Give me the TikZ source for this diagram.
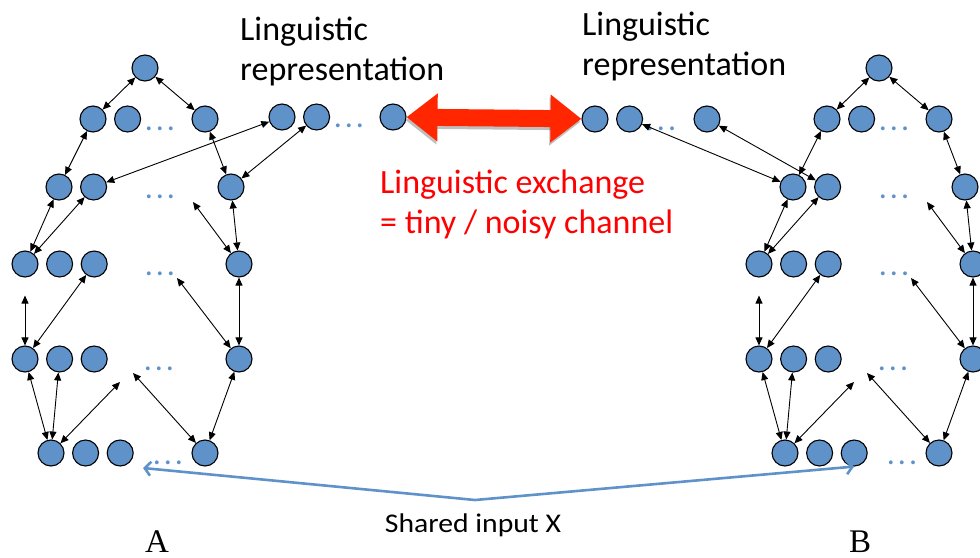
\documentclass[tikz,border=0pt]{standalone}
\usepackage{fontspec}
\setmainfont{Carlito}
\newfontfamily\letterfont{Liberation Serif}
\usetikzlibrary{arrows.meta}
\usetikzlibrary{positioning}
\definecolor{unitblue}{RGB}{96,146,202}
\definecolor{exchred}{RGB}{255,38,0}
\newcommand{\unitdots}{.\kern3pt.\kern3pt.}
\tikzstyle{unitnode} = [draw, circle, fill=unitblue, line width=1.1pt, minimum size=26pt, inner sep=0pt]
\tikzstyle{dotnode} = [text=unitblue, anchor=base, inner sep=0pt, font=\fontsize{32}{32}\selectfont]
\tikzstyle{link} = [{Triangle[length=8pt,width=7pt]}-{Triangle[length=8pt,width=7pt]}, line width=0.9pt]
\tikzstyle{bigarrow} = [{Triangle[length=31pt,width=46pt]}-{Triangle[length=31pt,width=46pt]}, line width=17pt, exchred]
\tikzstyle{inputarrow} = [-{Straight Barb[length=6pt,width=14pt]}, line width=2.6pt, unitblue]
\tikzstyle{labeltext} = [align=left, inner sep=0pt, font=\fontsize{34}{40}\selectfont]

\begin{document}
\begin{tikzpicture}[x=1pt, y=-1pt, node distance=7.5pt]
  \useasboundingbox (0,0) rectangle (980,557);

  % network A
  \node[unitnode] (At) at (145,68) {};
  \node[unitnode] (A2a) at (93,119) {};
  \node[unitnode, right=of A2a] (A2b) {};
  \node[dotnode] (A2x) at (160,130) {\unitdots};
  \node[unitnode] (A2d) at (205,119) {};
  \node[unitnode] (A3a) at (59,187) {};
  \node[unitnode, right=of A3a] (A3b) {};
  \node[dotnode] (A3x) at (160,198) {\unitdots};
  \node[unitnode] (A3d) at (231,187) {};
  \node[unitnode] (A4a) at (25,264) {};
  \node[unitnode, right=of A4a] (A4b) {};
  \node[unitnode, right=of A4b] (A4c) {};
  \node[dotnode] (A4x) at (160,275) {\unitdots};
  \node[unitnode] (A4d) at (239,264) {};
  \node[unitnode] (A5a) at (25,359) {};
  \node[unitnode, right=of A5a] (A5b) {};
  \node[unitnode, right=of A5b] (A5c) {};
  \node[dotnode] (A5x) at (159,370) {\unitdots};
  \node[unitnode] (A5d) at (239,359) {};
  \node[unitnode] (A6a) at (51,453) {};
  \node[unitnode, right=of A6a] (A6b) {};
  \node[unitnode, right=of A6b] (A6c) {};
  \node[dotnode] (A6x) at (168,464) {\unitdots};
  \node[unitnode] (A6d) at (205,453) {};
  \coordinate (A3y) at (193,202);
  \coordinate (A4y) at (177,278);
  \coordinate (A5y) at (120,382);
  \coordinate (A5z) at (133,373);

  % representation of A
  \node[unitnode] (Ra) at (282,117) {};
  \node[unitnode, right=of Ra] (Rb) {};
  \node[dotnode] (Rx) at (349,127) {\unitdots};
  \node[unitnode] (Rd) at (393,117) {};

  % network B
  \node[unitnode] (Bt) at (879,68) {};
  \node[unitnode] (B2a) at (827,119) {};
  \node[unitnode, right=of B2a] (B2b) {};
  \node[dotnode] (B2x) at (894,130) {\unitdots};
  \node[unitnode] (B2d) at (939,119) {};
  \node[unitnode] (B3a) at (793,187) {};
  \node[unitnode, right=of B3a] (B3b) {};
  \node[dotnode] (B3x) at (894,198) {\unitdots};
  \node[unitnode] (B3d) at (965,187) {};
  \node[unitnode] (B4a) at (759,264) {};
  \node[unitnode, right=of B4a] (B4b) {};
  \node[unitnode, right=of B4b] (B4c) {};
  \node[dotnode] (B4x) at (894,275) {\unitdots};
  \node[unitnode] (B4d) at (973,264) {};
  \node[unitnode] (B5a) at (759,359) {};
  \node[unitnode, right=of B5a] (B5b) {};
  \node[unitnode, right=of B5b] (B5c) {};
  \node[dotnode] (B5x) at (893,370) {\unitdots};
  \node[unitnode] (B5d) at (973,359) {};
  \node[unitnode] (B6a) at (785,453) {};
  \node[unitnode, right=of B6a] (B6b) {};
  \node[unitnode, right=of B6b] (B6c) {};
  \node[dotnode] (B6x) at (902,464) {\unitdots};
  \node[unitnode] (B6d) at (939,453) {};
  \coordinate (B3y) at (927,202);
  \coordinate (B4y) at (911,278);
  \coordinate (B5y) at (854,382);
  \coordinate (B5z) at (867,373);

  % representation of B
  \node[unitnode] (Sa) at (595,119) {};
  \node[unitnode, right=of Sa] (Sb) {};
  \node[dotnode] (Sx) at (661,130) {\unitdots};
  \node[unitnode] (Sd) at (707,119) {};

  % links in A
  \draw[link] (At) -- (A2a);
  \draw[link] (At) -- (A2d);
  \draw[link] (A2a) -- (A3a);
  \draw[link] (A2d) -- (A3d);
  \draw[link] (Ra) -- (A3b);
  \draw[link] (Rb) -- (A3d);
  \draw[link] (A3a) -- (A4a);
  \draw[link] (A3b) -- (A4a);
  \draw[link] (A3y) -- (A4d);
  \draw[link] (A3d) -- (A4d);
  \draw[link] (A4c) -- (A5a);
  \draw[link, shorten <=18pt] (A4a) -- (A5a);
  \draw[link] (A4y) -- (A5d);
  \draw[link] (A4d) -- (A5d);
  \draw[link] (A5a) -- (A6a);
  \draw[link] (A5b) -- (A6a);
  \draw[link] (A6a) -- (A5y);
  \draw[link] (A5z) -- (A6d);
  \draw[link] (A5d) -- (A6d);

  % links in B
  \draw[link] (Bt) -- (B2a);
  \draw[link] (Bt) -- (B2d);
  \draw[link] (B2a) -- (B3a);
  \draw[link] (B2d) -- (B3d);
  \draw[link] (Sb) -- (B3a);
  \draw[link] (Sd) -- (B3b);
  \draw[link] (B3a) -- (B4a);
  \draw[link] (B3b) -- (B4a);
  \draw[link] (B3y) -- (B4d);
  \draw[link] (B3d) -- (B4d);
  \draw[link] (B4c) -- (B5a);
  \draw[link, shorten <=18pt] (B4a) -- (B5a);
  \draw[link] (B4y) -- (B5d);
  \draw[link] (B4d) -- (B5d);
  \draw[link] (B5a) -- (B6a);
  \draw[link] (B5b) -- (B6a);
  \draw[link] (B6a) -- (B5y);
  \draw[link] (B5z) -- (B6d);
  \draw[link] (B5d) -- (B6d);

  % exchange between the two
  \draw[bigarrow, black, opacity=0.25, transform canvas={shift={(-1pt,-3pt)}}] (Rd) -- (Sa);
  \draw[bigarrow] (Rd) -- (Sa);

  % shared input
  \coordinate (X) at (475,500);
  \coordinate (XA) at (143,468);
  \draw[inputarrow] (X) -- (XA);
  \draw[inputarrow] (X) -- (B6c.south);

  % texts
  \node[labeltext, anchor=north west] (repA) at (240,17) {Linguistic\\representation};
  \node[labeltext, anchor=north west] (repB) at (582,12) {Linguistic\\representation};
  \node[labeltext, anchor=north west, text=red] (exch) at (380,170) {Linguistic exchange\\= tiny / noisy channel};
  \node[anchor=base, inner sep=0pt, font=\fontsize{27}{30}\selectfont] (Xlab) at (473,532) {\scalebox{1.1}[1]{Shared input X}};
  \node[anchor=base, inner sep=0pt, font=\letterfont\fontsize{33}{33}\selectfont] (Alab) at (157,552) {A};
  \node[anchor=base, inner sep=0pt, font=\letterfont\fontsize{33}{33}\selectfont] (Blab) at (860,552) {B};
\end{tikzpicture}
\end{document}
